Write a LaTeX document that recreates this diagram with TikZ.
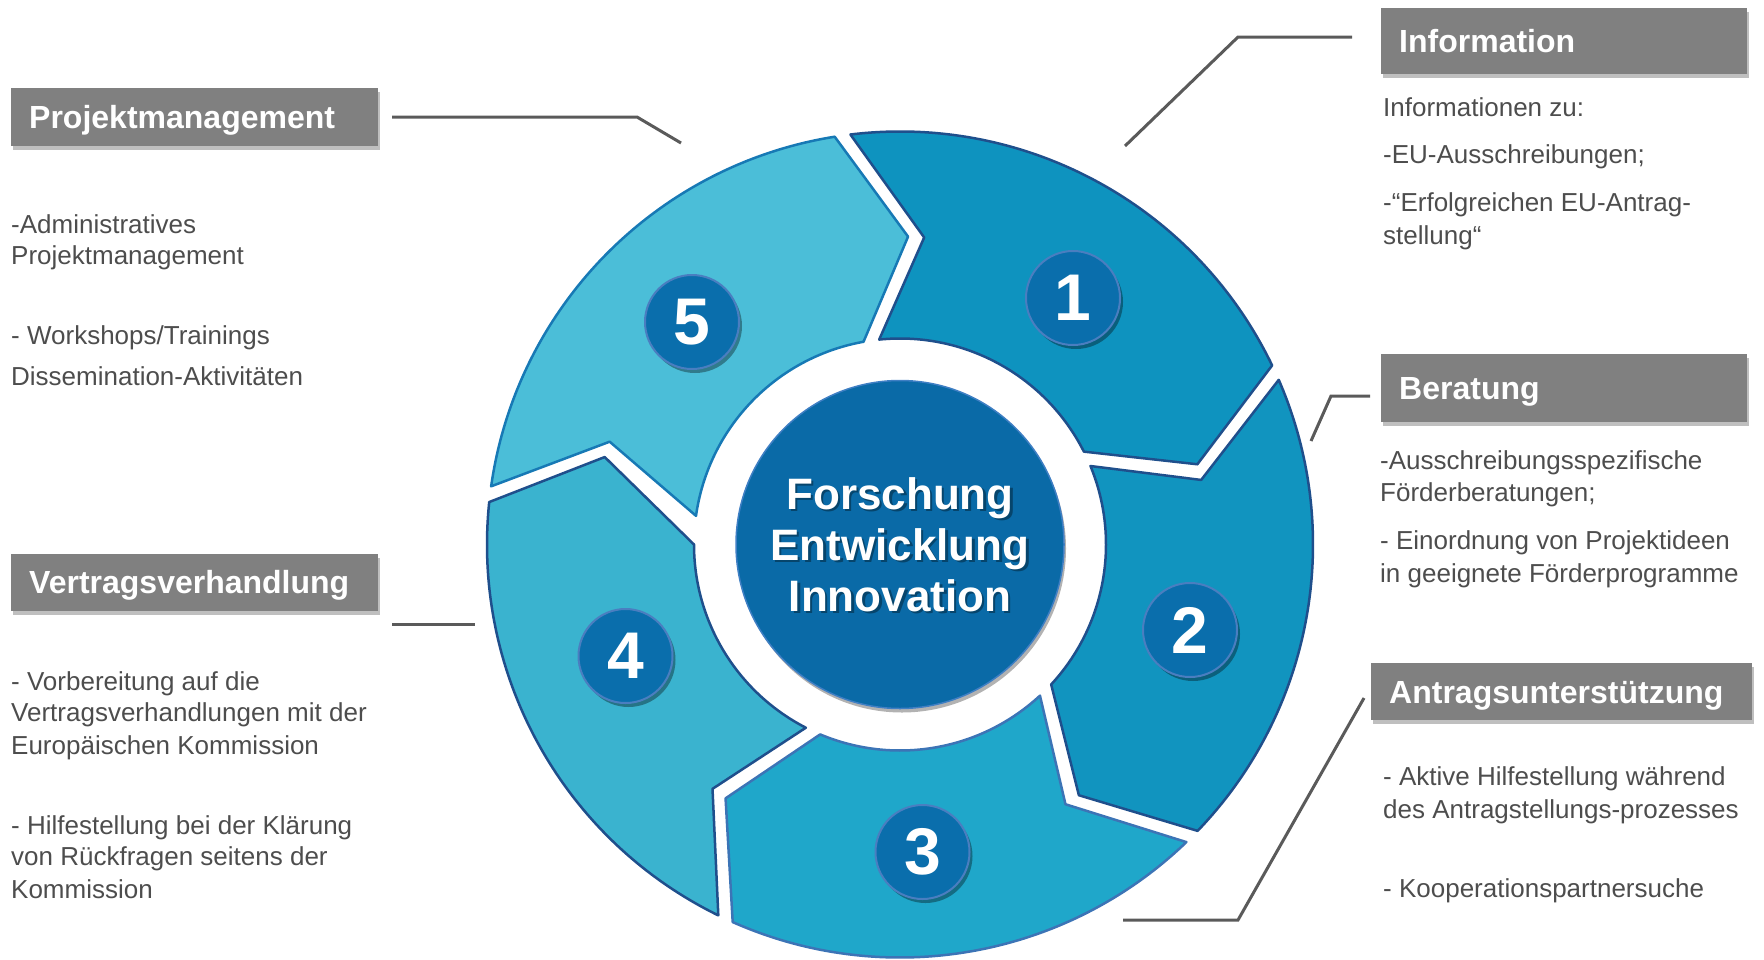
\documentclass[tikz,border=0pt]{standalone}
\usepackage{fontspec}
\setmainfont{Liberation Sans}
\usetikzlibrary{shadows}
\definecolor{hdrgray}{HTML}{808080}
\definecolor{txtgray}{HTML}{4D4D4D}
\definecolor{lineg}{HTML}{5A5A5A}
\definecolor{segA}{HTML}{0E93BF}
\definecolor{segB}{HTML}{1194BF}
\definecolor{segC}{HTML}{1FA7CA}
\definecolor{segD}{HTML}{3AB3CF}
\definecolor{segE}{HTML}{4BBED8}
\definecolor{navy}{HTML}{1F4F8C}
\definecolor{midblue}{HTML}{3C74B6}
\definecolor{bordE}{HTML}{1779B5}
\definecolor{numfill}{HTML}{0A6EAC}
\definecolor{numdraw}{HTML}{4A7EC0}
\definecolor{corefill}{HTML}{0A6AA7}
\definecolor{coredraw}{HTML}{3F7FC4}
\tikzset{
  hdr/.style={fill=hdrgray, text=white, font=\fontsize{32}{38}\selectfont\bfseries,
    anchor=north west, inner xsep=18pt, inner ysep=0pt, align=left,
    text height=23pt, text depth=0pt,
    drop shadow={shadow xshift=2pt, shadow yshift=-4pt, opacity=0.25, fill=black}},
  body/.style={text=txtgray, font=\fontsize{26}{32}\selectfont, anchor=base west, inner sep=0pt},
  conn/.style={draw=lineg, line width=3pt},
  numc/.style={circle, minimum size=94pt, inner sep=0pt, fill=numfill, draw=numdraw, line width=2pt,
    drop shadow={shadow xshift=3pt, shadow yshift=-4pt, opacity=0.35, fill=black},
    text=white, font=\fontsize{66}{70}\selectfont\bfseries},
  ringseg/.style={line width=2.5pt, line join=round},
}
% #1 tail base angle, #2 head base angle, #3 tail inner angle, #4 head inner angle
\newcommand{\ringpath}[4]{%
  (#1-1.1:413) arc[start angle={#1-1.1}, end angle={#2+1.1}, radius=413]
  -- ({#2-11+1.5}:308) -- (#4:206)
  arc[start angle=#4, end angle=#3, radius=206]
  -- ({#1-11-1.5}:308) -- cycle}
\begin{document}
\begin{tikzpicture}[x=1pt, y=-1pt]
\useasboundingbox (0,0) rectangle (1764,959);

% ring segments
\begin{scope}[shift={(900,544.5)}, yscale=-1]
  \draw[ringseg, fill=segA, draw=navy] \ringpath{98}{24.6}{95.8}{26.8};
  \draw[ringseg, fill=segB, draw=navy] \ringpath{24.6}{-45}{22.4}{-42.8};
  \draw[ringseg, fill=segC, draw=midblue] \ringpath{-45}{-115}{-47.2}{-112.8};
  \draw[ringseg, fill=segD, draw=navy] \ringpath{-115}{-187}{-117.2}{-180};
  \draw[ringseg, fill=segE, draw=bordE] \ringpath{173}{98}{172}{100.2};
\end{scope}

% core circle
\node[circle, minimum size=328pt, inner sep=0pt, fill=corefill, draw=coredraw, line width=1.5pt,
  drop shadow={shadow xshift=2pt, shadow yshift=-4pt, opacity=0.3, fill=black}] (core) at (900,544.5) {};
\node[align=center, font=\fontsize{44}{51}\selectfont\bfseries, text=black, opacity=0.35] (coretxs) at (902.5,547) {Forschung\\Entwicklung\\Innovation};
\node[align=center, font=\fontsize{44}{51}\selectfont\bfseries, text=white] (coretxt) at (core.center) {Forschung\\Entwicklung\\Innovation};

% number circles
\node[numc] (n1) at (1073,298) {1};
\node[numc] (n2) at (1190,630) {2};
\node[numc] (n3) at (922.5,852) {3};
\node[numc] (n4) at (625.5,656) {4};
\node[numc] (n5) at (692,322) {5};

% headers
\node[hdr, text width=331pt, minimum height=58pt] (pm) at (11,88) {Projektmanagement};
\node[hdr, text width=331pt, minimum height=57pt] (vv) at (11,553.5) {Vertragsverhandlung};
\node[hdr, text width=330pt, minimum height=66pt] (info) at (1381,8) {Information};
\node[hdr, text width=330pt, minimum height=68pt] (ber) at (1381,354) {Beratung};
\node[hdr, text width=345pt, minimum height=57pt, inner xsep=18pt] (antr) at (1371,663) {Antragsunterstützung};

% connectors
\coordinate (pmA) at (392,117);
\coordinate (pmB) at (637,117);
\coordinate (pmC) at (681,143);
\coordinate (vvA) at (392,624);
\coordinate (vvB) at (475,624);
\coordinate (inA) at (1352,37);
\coordinate (inB) at (1238,37);
\coordinate (inC) at (1125,146);
\coordinate (beA) at (1370,396);
\coordinate (beB) at (1331,396);
\coordinate (beC) at (1311,441);
\coordinate (anA) at (1364,698);
\coordinate (anB) at (1238,920);
\coordinate (anC) at (1123,920);
\draw[conn] (pmA) -- (pmB) -- (pmC);
\draw[conn] (vvA) -- (vvB);
\draw[conn] (inA) -- (inB) -- (inC);
\draw[conn] (beA) -- (beB) -- (beC);
\draw[conn] (anA) -- (anB) -- (anC);

% left body texts
\node[body] (l1) at (11,233) {-Administratives};
\node[body] (l2) at (11,264) {Projektmanagement};
\node[body] (l3) at (11,344) {- Workshops/Trainings};
\node[body] (l4) at (11,385) {Dissemination-Aktivitäten};
\node[body] (l5) at (11,690) {- Vorbereitung auf die};
\node[body] (l6) at (11,721) {Vertragsverhandlungen mit der};
\node[body] (l7) at (11,754) {Europäischen Kommission};
\node[body] (l8) at (11,834) {- Hilfestellung bei der Klärung};
\node[body] (l9) at (11,865) {von Rückfragen seitens der};
\node[body] (l10) at (11,898) {Kommission};

% right body texts
\node[body] (r1) at (1383,116) {Informationen zu:};
\node[body] (r2) at (1383,163) {-EU-Ausschreibungen;};
\node[body] (r3) at (1383,211.5) {-“Erfolgreichen EU-Antrag-};
\node[body] (r4) at (1383,244) {stellung“};
\node[body] (r5) at (1380,469) {-Ausschreibungsspezifische};
\node[body] (r6) at (1380,501) {Förderberatungen;};
\node[body] (r7) at (1380,549) {- Einordnung von Projektideen};
\node[body] (r8) at (1380,582) {in geeignete Förderprogramme};
\node[body] (r9) at (1383,785) {- Aktive Hilfestellung während};
\node[body] (r10) at (1383,818) {des Antragstellungs-prozesses};
\node[body] (r11) at (1383,897) {- Kooperationspartnersuche};
\end{tikzpicture}
\end{document}
